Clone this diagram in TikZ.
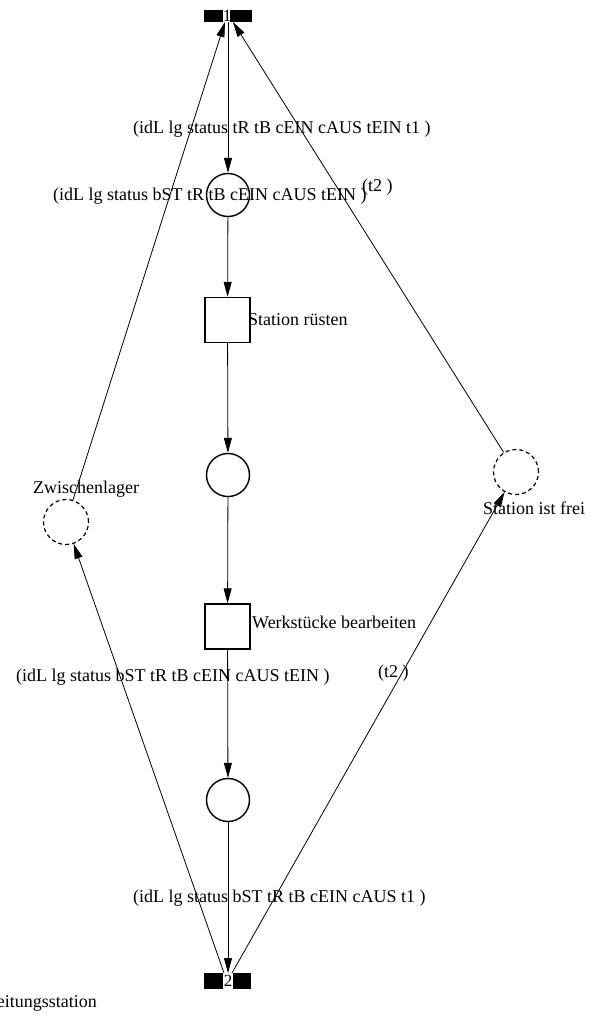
\documentclass[tikz,border=0pt]{standalone}
\usepackage{fontspec}
\setmainfont{Liberation Serif}
\usetikzlibrary{arrows.meta}
\begin{document}
\begin{tikzpicture}[x=1pt,y=-1pt,
  place/.style={circle,draw,line width=1.4pt,minimum size=43pt,inner sep=0pt},
  dplace/.style={circle,draw,dash pattern=on 4pt off 3pt,line width=1.2pt,minimum size=45pt,inner sep=0pt},
  trbox/.style={rectangle,draw,line width=1.4pt,minimum size=45pt,inner sep=0pt},
  lbl/.style={font=\fontsize{18}{20}\selectfont,inner sep=0pt,anchor=west},
  arc/.style={line width=0.8pt,-{Triangle[length=15pt,width=8pt]}},
  tnum/.style={font=\fontsize{17}{19}\selectfont,inner sep=0pt}]
\useasboundingbox (0,0) rectangle (590,1028);
% top transition
\node[tnum] (T1) at (227,16) {1};
\fill (204,10) rectangle (223,22);
\fill (230,10) rectangle (252,22);
\coordinate (T1l) at (225,22);
\coordinate (T1m) at (228,22);
\coordinate (T1r) at (233,22);
% bottom transition
\node[tnum] (B2) at (228,981) {2};
\fill (204,973) rectangle (223,989);
\fill (233,973) rectangle (251,989);
\coordinate (B2l) at (224,973);
\coordinate (B2m) at (228,973);
\coordinate (B2r) at (232,973);
% places and transitions
\node[place] (P1) at (228,195) {};
\node[place] (P2) at (228,475) {};
\node[place] (P3) at (228,800) {};
\node[trbox] (S1) at (227.5,320) {};
\node[trbox] (S2) at (227.5,626.5) {};
\node[dplace] (ZW) at (66,522) {};
\node[dplace] (SF) at (516,472) {};
% arcs
\draw[arc] (T1m) -- (P1);
\draw[arc] (P1) -- (S1);
\draw[arc] (S1) -- (P2);
\draw[arc] (P2) -- (S2);
\draw[arc] (S2) -- (P3);
\draw[arc] (P3) -- (B2m);
\draw[arc] (B2l) -- (ZW);
\draw[arc] (ZW) -- (T1l);
\draw[arc] (B2r) -- (SF);
\draw[arc] (SF) -- (T1r);
% labels
\node[lbl] (L1) at (133,129.5) {(idL lg status tR tB cEIN cAUS tEIN t1 )};
\node[lbl] (L2) at (53,196) {(idL lg status bST tR tB cEIN cAUS tEIN )};
\node[lbl] (L3) at (362,187) {(t2 )};
\node[lbl] (LS1) at (248,320) {Station rüsten};
\node[lbl] (LZW) at (33,489) {Zwischenlager};
\node[lbl] (LSF) at (483,508) {Station ist frei};
\node[lbl] (LS2) at (252,622) {Werkstücke bearbeiten};
\node[lbl] (L4) at (16,677) {(idL lg status bST tR tB cEIN cAUS tEIN )};
\node[lbl] (L5) at (378,673) {(t2 )};
\node[lbl] (L6) at (133,898) {(idL lg status bST tR tB cEIN cAUS t1 )};
\node[lbl,anchor=east] (LB) at (97,1003) {Bearbeitungsstation};
\end{tikzpicture}
\end{document}
